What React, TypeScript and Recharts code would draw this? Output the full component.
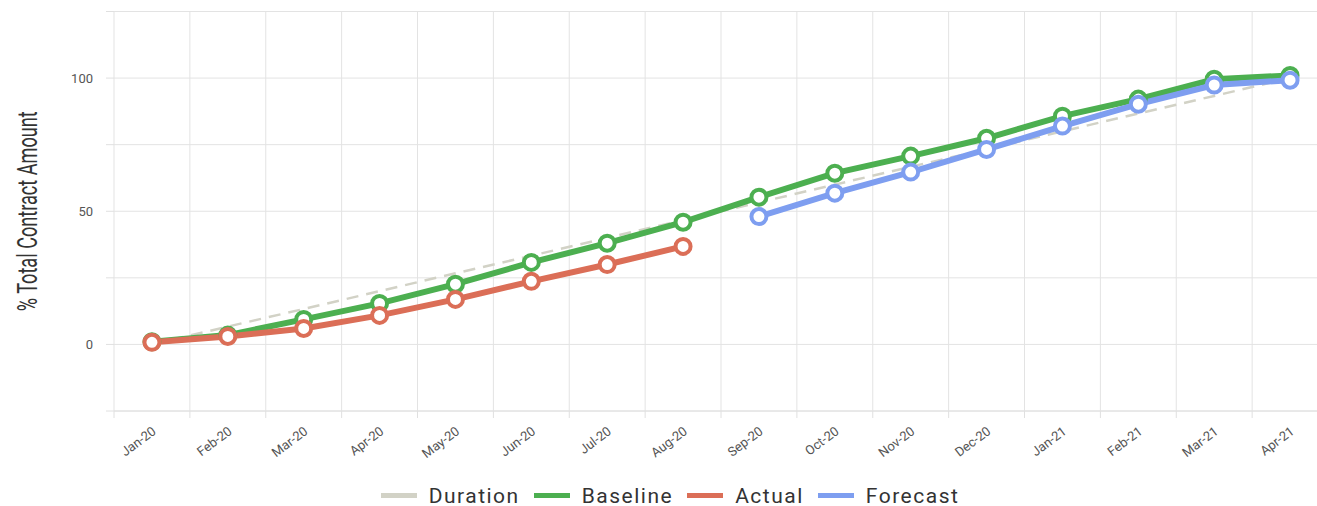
import { LineChart, Line, XAxis, YAxis, CartesianGrid, Legend } from 'recharts';

const months = [
  'Jan-20', 'Feb-20', 'Mar-20', 'Apr-20', 'May-20', 'Jun-20', 'Jul-20', 'Aug-20',
  'Sep-20', 'Oct-20', 'Nov-20', 'Dec-20', 'Jan-21', 'Feb-21', 'Mar-21', 'Apr-21',
];
const duration = [0, 6.7, 13.3, 20, 26.7, 33.3, 40, 46.7, 53.3, 60, 66.7, 73.3, 80, 86.7, 93.3, 100];
const baseline = [1, 3.5, 9.4, 15.4, 22.6, 30.8, 38, 45.9, 55.3, 64.3, 70.7, 77.4, 85.7, 92.1, 99.6, 101];
const actual = [0.8, 3, 6, 10.9, 16.9, 23.7, 30, 36.8, null, null, null, null, null, null, null, null];
const forecast = [null, null, null, null, null, null, null, null, 48, 56.8, 64.7, 73.2, 82, 90.2, 97.4, 99.2];
const yTicks = [-25, 0, 25, 50, 75, 100, 125];
const yLabels = [0, 50, 100];

const SERIES = [
  { key: 'duration', name: 'Duration', color: '#D2D2C6' },
  { key: 'baseline', name: 'Baseline', color: '#4CAF50' },
  { key: 'actual', name: 'Actual', color: '#DB6E57' },
  { key: 'forecast', name: 'Forecast', color: '#7E9EF0' },
];

const data = months.map((m, i) => ({
  i,
  month: m,
  duration: duration[i],
  baseline: baseline[i],
  actual: actual[i],
  forecast: forecast[i],
}));

// gridlines / tick marks sit on the band edges, labels sit on the band centres
const edgeTicks = months.map((_, i) => i - 0.5).concat(months.length - 0.5);
const centreTicks = months.map((_, i) => i);

function MonthTick(props: any) {
  const { x, y, payload } = props;
  const ax = x + 5;
  const ay = y + 14;
  return (
    <text x={ax} y={ay} transform={`rotate(-37, ${ax}, ${ay})`} textAnchor="end" fontSize={13} fill="#555">
      {months[payload.value]}
    </text>
  );
}

function YTitle(props: any) {
  const vb = props.viewBox || { x: 0, y: 0, height: 400 };
  const cy = vb.y + vb.height / 2;
  return (
    <text
      x={37}
      y={cy}
      transform={`rotate(-90, 37, ${cy})`}
      textAnchor="middle"
      fontSize={28}
      textLength={200}
      lengthAdjust="spacingAndGlyphs"
      fill="#333"
    >
      % Total Contract Amount
    </text>
  );
}

const renderLegend = () => (
  <div
    style={{
      display: 'flex',
      justifyContent: 'center',
      alignItems: 'center',
      height: 30,
      paddingTop: 9,
      boxSizing: 'border-box',
      fontSize: 21,
      color: '#333',
    }}
  >
    {SERIES.map((s, idx) => (
      <span key={s.key} style={{ display: 'flex', alignItems: 'center', marginLeft: idx ? 14 : 0 }}>
        <span style={{ display: 'inline-block', width: 36, height: 5, background: s.color, marginRight: 12 }} />
        <span style={{ letterSpacing: 1.5 }}>{s.name}</span>
      </span>
    ))}
  </div>
);

export default function App() {
  return (
    <div
      style={{
        position: 'absolute',
        left: 0,
        top: 0,
        width: 1317,
        height: 506,
        overflow: 'hidden',
        background: '#fff',
        fontFamily: 'Roboto, sans-serif',
      }}
    >
      <LineChart width={1340} height={506} data={data} margin={{ top: 11.5, right: 12, left: 0, bottom: 0 }}>
        <CartesianGrid xAxisId="grid" stroke="#e3e3e3" strokeWidth={1} />
        <XAxis
          xAxisId="grid"
          dataKey="i"
          type="number"
          domain={[-0.5, months.length - 0.5]}
          ticks={edgeTicks}
          interval={0}
          height={8}
          tickSize={7}
          tick={() => <g />}
          tickLine={{ stroke: '#e0e0e0' }}
          axisLine={{ stroke: '#e0e0e0' }}
        />
        <XAxis
          xAxisId="lab"
          dataKey="i"
          type="number"
          domain={[-0.5, months.length - 0.5]}
          ticks={centreTicks}
          interval={0}
          height={57}
          tickSize={0}
          tickMargin={0}
          tick={<MonthTick />}
          tickLine={false}
          axisLine={false}
        />
        <YAxis
          domain={[-25, 125]}
          ticks={yTicks}
          interval={0}
          width={114}
          tickSize={8}
          tickMargin={13}
          tickLine={{ stroke: '#e0e0e0' }}
          axisLine={false}
          tick={{ fontSize: 13, fill: '#555' }}
          tickFormatter={(v: number) => (yLabels.includes(v) ? String(v) : '')}
          label={{ content: <YTitle /> }}
        />
        <Legend verticalAlign="bottom" content={renderLegend} wrapperStyle={{ left: 0, width: 1340 }} />
        <Line
          xAxisId="lab"
          type="linear"
          dataKey="duration"
          name="Duration"
          stroke={SERIES[0].color}
          strokeWidth={2.5}
          strokeDasharray="12 8"
          dot={false}
          activeDot={false}
          isAnimationActive={false}
        />
        {SERIES.slice(1).map((s) => (
          <Line
            key={s.key}
            xAxisId="lab"
            type="linear"
            dataKey={s.key}
            name={s.name}
            stroke={s.color}
            strokeWidth={6}
            dot={{ r: 7.5, fill: '#fff', stroke: s.color, strokeWidth: 4 }}
            activeDot={false}
            isAnimationActive={false}
          />
        ))}
      </LineChart>
    </div>
  );
}
